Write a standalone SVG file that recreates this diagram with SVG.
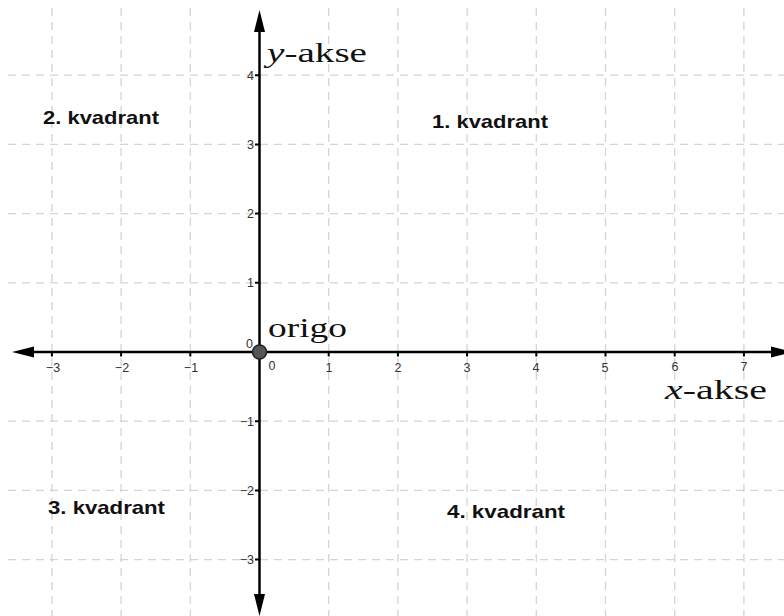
<svg xmlns="http://www.w3.org/2000/svg" width="784" height="616" viewBox="0 0 784 616">
<style>
.grid{stroke:#d4d4d4;stroke-width:1.3;stroke-dasharray:8,6;fill:none}
.axis{stroke:#000;stroke-width:2.5;fill:none}
.tick{stroke:#000;stroke-width:2}
.tl{font-family:"Liberation Sans",Arial,sans-serif;font-size:12.5px;fill:#333}
.tx{text-anchor:middle}
.ty{text-anchor:end}
.q{font-family:"Liberation Sans",Arial,sans-serif;font-size:19px;font-weight:bold;fill:#111}
.ser{font-family:"Liberation Serif","Times New Roman",serif;font-size:28px;fill:#111}
.arrow{fill:#000}
</style>
<rect width="784" height="616" fill="#fff"/>
<g id="grid">
<path class="grid" d="M51.9 8V616M121.1 8V616M190.3 8V616M328.7 8V616M397.9 8V616M467.1 8V616M536.3 8V616M605.5 8V616M674.7 8V616M743.9 8V616"/>
<path class="grid" d="M8 75.2H784M8 144.4H784M8 213.6H784M8 282.8H784M8 421.2H784M8 490.4H784M8 559.6H784"/>
</g>
<g id="connectors">
<line class="axis" x1="30" y1="352" x2="772" y2="352"/>
<line class="axis" x1="259.5" y1="30" x2="259.5" y2="597"/>
<polygon class="arrow" points="12,352 34,346.5 34,357.5"/>
<polygon class="arrow" points="793,352 771,346.5 771,357.5"/>
<polygon class="arrow" points="259.5,10 254,32 265,32"/>
<polygon class="arrow" points="259.5,616 254,594 265,594"/>
<path class="tick" d="M51.9 352v4.5M121.1 352v4.5M190.3 352v4.5M328.7 352v4.5M397.9 352v4.5M467.1 352v4.5M536.3 352v4.5M605.5 352v4.5M674.7 352v4.5M743.9 352v4.5"/>
<path class="tick" d="M259.5 75.2h-4.5M259.5 144.4h-4.5M259.5 213.6h-4.5M259.5 282.8h-4.5M259.5 421.2h-4.5M259.5 490.4h-4.5M259.5 559.6h-4.5"/>
</g>
<g id="x-tick-labels" class="tl tx">
<text x="53" y="372">−3</text>
<text x="122" y="372">−2</text>
<text x="191" y="372">−1</text>
<text x="272" y="370">0</text>
<text x="329" y="372">1</text>
<text x="398" y="372">2</text>
<text x="467" y="372">3</text>
<text x="536" y="372">4</text>
<text x="605" y="372">5</text>
<text x="675" y="371">6</text>
<text x="744" y="371">7</text>
</g>
<g id="y-tick-labels" class="tl ty">
<text x="254" y="80">4</text>
<text x="254" y="149">3</text>
<text x="254" y="218">2</text>
<text x="254" y="287">1</text>
<text x="253" y="348">0</text>
<text x="254" y="426">−1</text>
<text x="254" y="495">−2</text>
<text x="254" y="564">−3</text>
</g>
<g id="origo">
<circle cx="259.5" cy="352" r="7" fill="#555" stroke="#222" stroke-width="1.5"/>
<text class="ser" x="268" y="337" textLength="79" lengthAdjust="spacingAndGlyphs">origo</text>
</g>
<g id="y-akse">
<text class="ser" x="267" y="62" textLength="100" lengthAdjust="spacingAndGlyphs"><tspan font-style="italic">y</tspan>-akse</text>
</g>
<g id="x-akse">
<text class="ser" x="665" y="399" font-size="27" textLength="102" lengthAdjust="spacingAndGlyphs"><tspan font-style="italic">x</tspan>-akse</text>
</g>
<g id="kvadrant1"><text class="q" x="432" y="128" textLength="116" lengthAdjust="spacingAndGlyphs">1. kvadrant</text></g>
<g id="kvadrant2"><text class="q" x="43" y="124" textLength="116" lengthAdjust="spacingAndGlyphs">2. kvadrant</text></g>
<g id="kvadrant3"><text class="q" x="48" y="514" textLength="117" lengthAdjust="spacingAndGlyphs">3. kvadrant</text></g>
<g id="kvadrant4"><text class="q" x="447" y="518" textLength="118" lengthAdjust="spacingAndGlyphs">4. kvadrant</text></g>
</svg>
